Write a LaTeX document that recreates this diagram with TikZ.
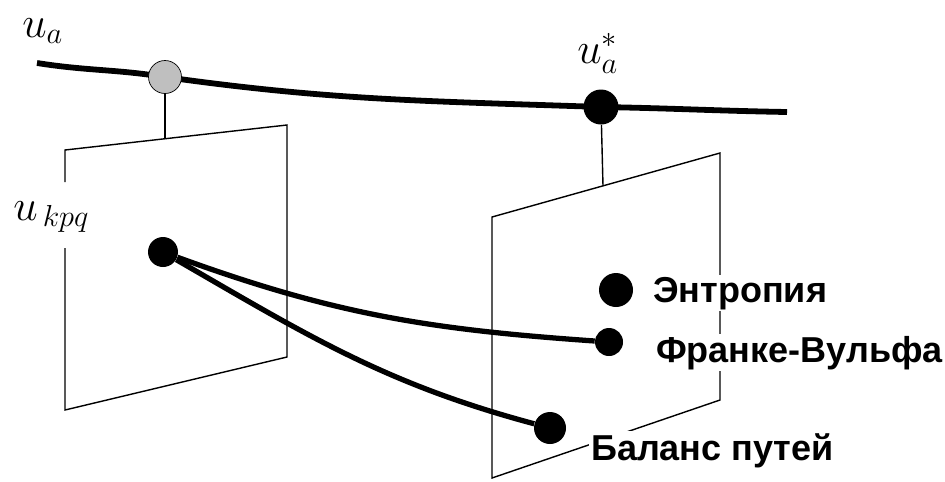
\documentclass[tikz,border=0pt]{standalone}
\usepackage{fontspec}
\newfontfamily\rusfont{Liberation Sans}
\usetikzlibrary{backgrounds}
\begin{document}
\begin{tikzpicture}[x=0.02cm,y=-0.02cm,
	plan/.style={line width=0.8pt},
	point/.style={circle,fill=black,inner sep=0pt},
	chemin/.style={line width=3pt},
	nom/.style={font=\rusfont\bfseries\fontsize{20.5}{24}\selectfont,anchor=base west,fill=white,inner sep=1pt},
	var/.style={font=\fontsize{24.5}{28}\selectfont,anchor=base west,inner sep=0pt}]
	\useasboundingbox (0,0) rectangle (945,481);
	%plans
	\draw[plan] (65,182) -- (65,150) -- (287,125) -- (287,357) -- (65,410) -- (65,248);
	\draw[plan] (492,217) -- (720,153) -- (720,400) -- (492,478) -- cycle;
	%la courbe u_a
	\coordinate (debut) at (37,63);
	\coordinate (fin) at (787,112);
	\coordinate (pied1) at (165,139);
	\coordinate (pied2) at (603,186);
	\node[point,fill=black!25,draw,thin,minimum size=0.66cm] (ua) at (165,77) {};
	\node[point,minimum size=0.7cm] (uas) at (601,107) {};
	\begin{scope}[on background layer]
	\draw[chemin,line width=3.3pt] (debut) to[out=-9,in=171] (ua.center) to[out=-8,in=178] (uas.center) to[out=-1,in=179] (fin);
	\end{scope}
	\draw[plan] (ua) -- (pied1);
	\draw[plan] (uas) -- (pied2);
	%les variables
	\node[var] (lua) at (22,37) {$u_a$};
	\node[var] (luas) at (577,63) {$u_a^*$};
	\node[var] (lukpq) at (13,220) {$u_{\,kpq}$};
	%les points
	\node[point,minimum size=0.6cm] (kpq) at (163,252) {};
	\node[point,minimum size=0.68cm] (ent) at (616,290) {};
	\node[point,minimum size=0.56cm] (fw) at (609,342) {};
	\node[point,minimum size=0.64cm] (bal) at (550,428) {};
	%les chemins
	\draw[chemin] (kpq) to[out=-20,in=176] (fw);
	\draw[chemin] (kpq) to[out=-30,in=165] (bal);
	%les noms
	\node[nom] (tent) at (651,302) {Энтропия};
	\node[nom] (tfw) at (654,362) {Франке-Вульфа};
	\node[nom] (tbal) at (589,460) {Баланс путей};
\end{tikzpicture}
\end{document}
